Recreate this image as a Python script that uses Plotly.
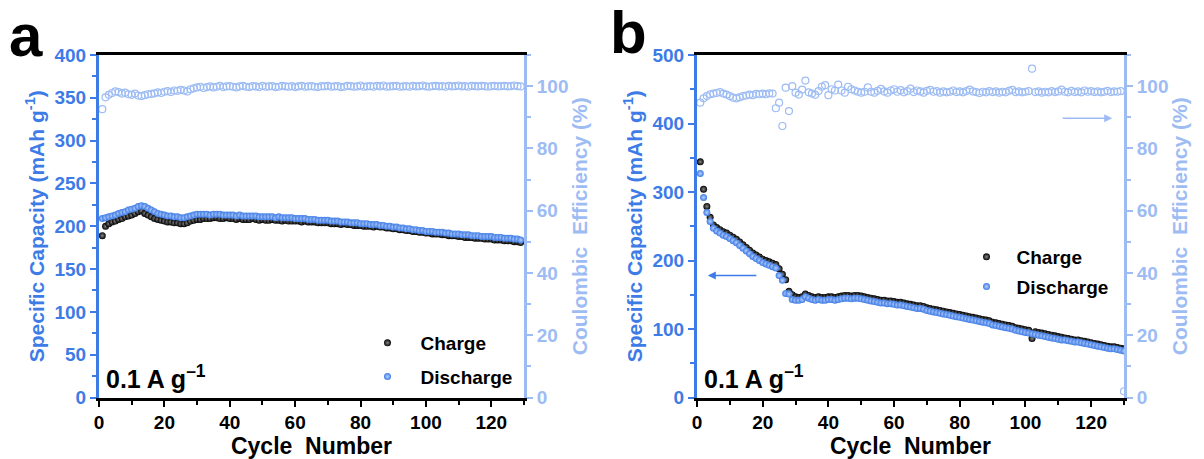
import plotly.graph_objects as go

# ---------------- data ----------------
cycles_a = list(range(1, 130))
charge_a = [189, 200, 203, 205, 206, 208, 209, 211, 212, 213,
            215, 217, 218, 215, 213, 211, 209, 208, 207, 206,
            205, 205, 204, 204, 203, 203, 204, 206, 207, 208,
            208, 209, 209, 209, 210, 210, 209, 209, 210, 209,
            209, 208, 209, 208, 208, 208, 209, 208, 207, 208,
            207, 207, 208, 207, 207, 206, 207, 206, 206, 206,
            206, 205, 206, 205, 205, 205, 204, 204, 204, 204,
            203, 203, 203, 202, 203, 202, 202, 201, 201, 201,
            200, 200, 200, 199, 200, 199, 199, 198, 198, 197,
            197, 196, 196, 195, 195, 194, 194, 193, 193, 192,
            192, 191, 191, 191, 190, 190, 189, 189, 189, 188,
            188, 187, 187, 187, 186, 186, 186, 185, 185, 185,
            184, 184, 184, 183, 183, 183, 182, 182, 181]
discharge_a = [209, 210, 211, 212, 213, 215, 216, 217, 219, 220,
               221, 223, 224, 223, 221, 219, 217, 215, 214, 213,
               212, 212, 211, 211, 210, 210, 211, 212, 213, 214,
               214, 214, 214, 213, 214, 214, 214, 213, 213, 213,
               213, 212, 213, 212, 212, 212, 212, 212, 211, 211,
               211, 211, 211, 210, 211, 210, 210, 210, 210, 209,
               209, 209, 209, 208, 208, 208, 207, 207, 207, 207,
               206, 206, 206, 205, 205, 205, 204, 204, 204, 203,
               203, 203, 202, 202, 202, 201, 201, 200, 200, 199,
               199, 198, 198, 197, 197, 196, 196, 195, 195, 194,
               194, 194, 193, 193, 193, 192, 192, 191, 191, 191,
               190, 190, 190, 189, 189, 189, 188, 188, 188, 188,
               187, 187, 187, 186, 186, 186, 185, 185, 184]
ce_a = [92.6, 96.4, 97.2, 97.8, 98.3, 98.1, 97.6, 97.9, 97.4, 97.2,
        97.6, 97.0, 96.8, 97.1, 97.4, 97.5, 97.7, 98.0, 97.8, 98.2,
        98.4, 98.1, 98.6, 98.5, 98.8, 98.6, 98.3, 99.0, 99.3, 99.6,
        99.8, 99.4, 99.7, 99.9, 99.6, 99.8, 100.1, 99.7, 99.9, 100.0,
        99.8, 99.6, 99.9, 100.1, 99.8, 99.7, 100.0, 99.9, 99.7, 100.1,
        99.8, 99.9, 100.0, 99.7, 99.8, 100.1, 99.9, 99.8, 100.0, 99.7,
        99.9, 100.1, 99.8, 99.9, 100.0, 99.8, 99.7, 100.0, 99.9, 100.1,
        99.8, 99.9, 100.0, 99.7, 99.8, 100.1, 100.0, 99.8, 99.9, 100.2,
        99.8, 99.9, 100.0, 99.8, 100.1, 99.9, 100.2, 99.8, 99.9, 100.0,
        100.1, 99.8, 99.9, 100.0, 99.8, 100.1, 99.9, 100.0, 100.2, 99.9,
        99.8, 100.0, 100.1, 99.9, 100.0, 99.8, 100.1, 99.9, 100.0, 100.2,
        99.9, 100.0, 99.8, 100.1, 100.0, 99.9, 100.1, 100.0, 99.8, 100.0,
        100.1, 99.9, 100.0, 100.1, 99.9, 100.0, 100.2, 100.0, 99.9]

cycles_b = list(range(1, 131))
charge_b = [344, 304, 279, 263, 252, 248, 245, 242, 240, 237,
            234, 231, 227, 223, 219, 215, 211, 208, 205, 202,
            200, 198, 196, 194, 188, 180, 172, 155, 150, 147,
            146, 147, 151, 149, 147, 146, 147, 146, 146, 147,
            147, 146, 147, 148, 149, 149, 148, 149, 149, 148,
            147, 146, 145, 144, 143, 142, 142, 141, 141, 140,
            139, 139, 138, 137, 136, 135, 134, 134, 133, 131,
            130, 129, 128, 127, 126, 125, 124, 123, 122, 121,
            120, 119, 118, 117, 116, 115, 114, 113, 112, 110,
            109, 108, 107, 106, 105, 104, 102, 101, 100, 99,
            98, 86, 96, 95, 94, 93, 92, 91, 90, 89,
            88, 87, 86, 85, 84, 84, 83, 82, 81, 80,
            79, 78, 77, 76, 75, 74, 74, 73, 72, 71]
discharge_b = [327, 292, 270, 257, 247, 243, 240, 237, 235, 232,
               229, 226, 222, 218, 214, 210, 206, 203, 200, 197,
               195, 193, 191, 189, 178, 171, 152, 151, 143, 142,
               142, 143, 147, 145, 143, 142, 143, 142, 142, 143,
               143, 142, 143, 144, 145, 145, 144, 145, 145, 144,
               143, 142, 141, 140, 139, 138, 138, 137, 137, 136,
               135, 135, 134, 133, 132, 131, 130, 130, 129, 127,
               126, 125, 124, 123, 122, 121, 120, 119, 118, 117,
               116, 115, 114, 113, 112, 111, 110, 109, 108, 106,
               105, 104, 103, 102, 101, 100, 98, 97, 96, 95,
               94, 93, 92, 91, 90, 89, 88, 87, 86, 85,
               84, 84, 83, 82, 81, 81, 80, 79, 78, 77,
               76, 75, 74, 73, 72, 71, 71, 70, 69, 68]
ce_b = [94.7, 96.1, 96.8, 97.4, 97.6, 97.8, 98.1, 97.6, 97.3, 96.8,
        96.3, 96.1, 96.4, 96.8, 97.0, 97.3, 97.1, 97.5, 97.4, 97.6,
        97.4, 97.7, 97.6, 92.9, 94.7, 87.2, 99.5, 92.0, 100.0, 97.9,
        97.3, 98.9, 101.8, 98.0, 97.6, 97.2, 98.4, 99.8, 100.3, 97.1,
        99.0, 98.6, 100.5, 98.6, 97.9, 99.8, 99.0, 98.6, 98.2, 97.9,
        98.2, 99.6, 98.2, 97.9, 98.5, 99.1, 98.3, 97.9, 98.6, 99.0,
        98.2, 98.7, 98.0, 98.4, 99.2, 98.1, 98.6, 98.3, 97.9, 98.5,
        98.8, 98.2, 98.4, 97.9, 98.3, 98.0, 98.2, 98.6, 98.1, 98.3,
        98.0, 98.4, 98.9, 98.3, 98.1, 97.8, 98.2, 98.0, 98.4, 98.1,
        98.3, 97.9, 98.2, 98.0, 98.5, 98.8, 98.1, 98.3, 98.0, 98.2,
        98.4, 105.6, 98.1, 98.3, 97.9, 98.2, 98.0, 98.4, 98.1, 98.3,
        98.9, 98.2, 98.0, 98.5, 98.1, 98.3, 98.0, 98.6, 98.2, 98.4,
        98.1, 98.3, 98.0, 98.2, 98.5, 98.1, 98.3, 98.2, 98.4, 2.0]

x_ticks = [0, 20, 40, 60, 80, 100, 120]
cap_ticks_a = [0, 50, 100, 150, 200, 250, 300, 350, 400]
cap_ticks_b = [0, 100, 200, 300, 400, 500]
ce_ticks = [0, 20, 40, 60, 80, 100]

# ---------------- style ----------------
FONT = "Arial, 'Liberation Sans', sans-serif"
BLUE = "#3d7be6"
LIGHT = "#9dbcf4"
BLACK = "#000000"

W, H = 1204, 459


def px_x(p):
    return p / W


def px_y(p):
    return 1 - p / H


def bold(vals):
    return [f"<b>{v}</b>" for v in vals]


dom_a = [px_x(99), px_x(524)]
dom_b = [px_x(697), px_x(1124)]
dom_y = [px_y(397.5), px_y(55)]

fig = go.Figure()

charge_marker = dict(color=BLACK, size=7,
                     gradient=dict(type="radial", color="#8a8a8a"),
                     line=dict(width=0))
discharge_marker = dict(color=BLUE, size=7,
                        gradient=dict(type="radial", color="#b9d0fa"),
                        line=dict(width=0))
ce_marker = dict(symbol="circle-open", size=7, color=LIGHT, line=dict(width=1.2))

# panel a
fig.add_trace(go.Scatter(x=cycles_a, y=charge_a, mode="markers", name="<b>Charge</b>",
                         marker=charge_marker, xaxis="x", yaxis="y",
                         legend="legend", legendgroup="a1"))
fig.add_trace(go.Scatter(x=cycles_a, y=discharge_a, mode="markers",
                         name="<b>Discharge</b>",
                         marker=discharge_marker, xaxis="x", yaxis="y",
                         legend="legend", legendgroup="a2"))
fig.add_trace(go.Scatter(x=cycles_a, y=ce_a, mode="markers", showlegend=False,
                         marker=ce_marker, xaxis="x", yaxis="y2"))

# panel b
fig.add_trace(go.Scatter(x=cycles_b, y=charge_b, mode="markers", name="<b>Charge</b>",
                         marker=charge_marker, xaxis="x2", yaxis="y3",
                         legend="legend2", legendgroup="b1"))
fig.add_trace(go.Scatter(x=cycles_b, y=discharge_b, mode="markers",
                         name="<b>Discharge</b>",
                         marker=discharge_marker, xaxis="x2", yaxis="y3",
                         legend="legend2", legendgroup="b2"))
fig.add_trace(go.Scatter(x=cycles_b, y=ce_b, mode="markers", showlegend=False,
                         marker=ce_marker, xaxis="x2", yaxis="y4"))

TICK_SIZE = 19


def x_axis(domain, anchor):
    return dict(domain=domain, anchor=anchor, range=[0, 130], automargin=False,
                tickvals=x_ticks, ticktext=bold(x_ticks),
                ticks="outside", ticklen=6, tickwidth=2,
                tickcolor=BLACK, showline=True, linecolor=BLACK, linewidth=3,
                mirror=True, showgrid=False, zeroline=False,
                minor=dict(dtick=10, ticks="outside", ticklen=4, tickwidth=2,
                           tickcolor=BLACK, showgrid=False),
                tickfont=dict(family=FONT, size=TICK_SIZE, color=BLACK, weight="bold"),
                title=dict(text="<b>Cycle\u00a0\u00a0Number</b>", standoff=8,
                           font=dict(family=FONT, size=23, color=BLACK,
                                     weight="bold")))


def left_axis(domain, anchor, top, step, vals):
    return dict(domain=domain, anchor=anchor, range=[0, top], automargin=False,
                tickvals=vals, ticktext=bold(vals),
                ticks="outside", ticklen=6, tickwidth=2, tickcolor=BLUE,
                showline=True, linecolor=BLUE, linewidth=3, showgrid=False,
                zeroline=False,
                minor=dict(dtick=step / 2, ticks="outside", ticklen=4, tickwidth=2,
                           tickcolor=BLUE, showgrid=False),
                tickfont=dict(family=FONT, size=TICK_SIZE, color=BLUE, weight="bold"),
                title=dict(text="<b>Specific Capacity (mAh g<sup>-1</sup>)</b>",
                           standoff=5,
                           font=dict(family=FONT, size=21, color=BLUE,
                                     weight="bold")))


def right_axis(overlay, anchor):
    return dict(overlaying=overlay, anchor=anchor, side="right", range=[0, 110],
                automargin=False,
                tickvals=ce_ticks, ticktext=bold(ce_ticks), ticks="outside",
                ticklen=6, tickwidth=2, tickcolor=LIGHT, showline=True,
                linecolor=LIGHT, linewidth=3, showgrid=False, zeroline=False,
                minor=dict(dtick=10, ticks="outside", ticklen=4, tickwidth=2,
                           tickcolor=LIGHT, showgrid=False),
                tickfont=dict(family=FONT, size=TICK_SIZE, color=LIGHT, weight="bold"),
                title=dict(text="<b>Coulombic\u00a0\u00a0Efficiency (%)</b>",
                           standoff=5,
                           font=dict(family=FONT, size=21, color=LIGHT,
                                     weight="bold")))


legend_font = dict(family=FONT, size=19, color=BLACK, weight="bold")

fig.update_layout(
    width=W, height=H,
    margin=dict(l=0, r=0, t=0, b=0, autoexpand=False),
    paper_bgcolor="white", plot_bgcolor="white",
    font=dict(family=FONT),
    xaxis=x_axis(dom_a, "y"),
    yaxis=left_axis(dom_y, "x", 400, 50, cap_ticks_a),
    yaxis2=right_axis("y", "x"),
    xaxis2=x_axis(dom_b, "y3"),
    yaxis3=left_axis(dom_y, "x2", 500, 100, cap_ticks_b),
    yaxis4=right_axis("y3", "x2"),
    legend=dict(x=px_x(354.5), y=px_y(324), xanchor="left", yanchor="top",
                bgcolor="rgba(0,0,0,0)", font=legend_font,
                itemwidth=56, tracegroupgap=6),
    legend2=dict(x=px_x(956.5), y=px_y(238), xanchor="left", yanchor="top",
                 bgcolor="rgba(0,0,0,0)", font=legend_font,
                 itemwidth=50, tracegroupgap=2),
    showlegend=True,
)

ann_font = dict(family=FONT, size=25, color=BLACK, weight="bold")
fig.add_annotation(text="<b>0.1 A g<sup>\u20131</sup></b>", xref="paper", yref="paper",
                   x=px_x(104), y=px_y(377), xanchor="left", yanchor="middle",
                   showarrow=False, font=ann_font)
fig.add_annotation(text="<b>0.1 A g<sup>\u20131</sup></b>", xref="paper", yref="paper",
                   x=px_x(702), y=px_y(377), xanchor="left", yanchor="middle",
                   showarrow=False, font=ann_font)

# panel letters
letter_font = dict(family=FONT, size=60, color=BLACK, weight="bold")
fig.add_annotation(text="<b>a</b>", xref="paper", yref="paper", x=px_x(7), y=px_y(35),
                   xanchor="left", yanchor="middle", showarrow=False, font=letter_font)
fig.add_annotation(text="<b>b</b>", xref="paper", yref="paper", x=px_x(608), y=px_y(32),
                   xanchor="left", yanchor="middle", showarrow=False, font=letter_font)

# axis-pointing arrows in panel b
fig.add_annotation(x=3.3, y=178, xref="x2", yref="y3", ax=50, ay=0, text="",
                   showarrow=True, arrowhead=2, arrowsize=1, arrowwidth=1.6,
                   arrowcolor=BLUE)
fig.add_annotation(x=126.4, y=89.7, xref="x2", yref="y4", ax=-51, ay=0, text="",
                   showarrow=True, arrowhead=2, arrowsize=1, arrowwidth=1.6,
                   arrowcolor=LIGHT)

fig.write_html("out.html")
